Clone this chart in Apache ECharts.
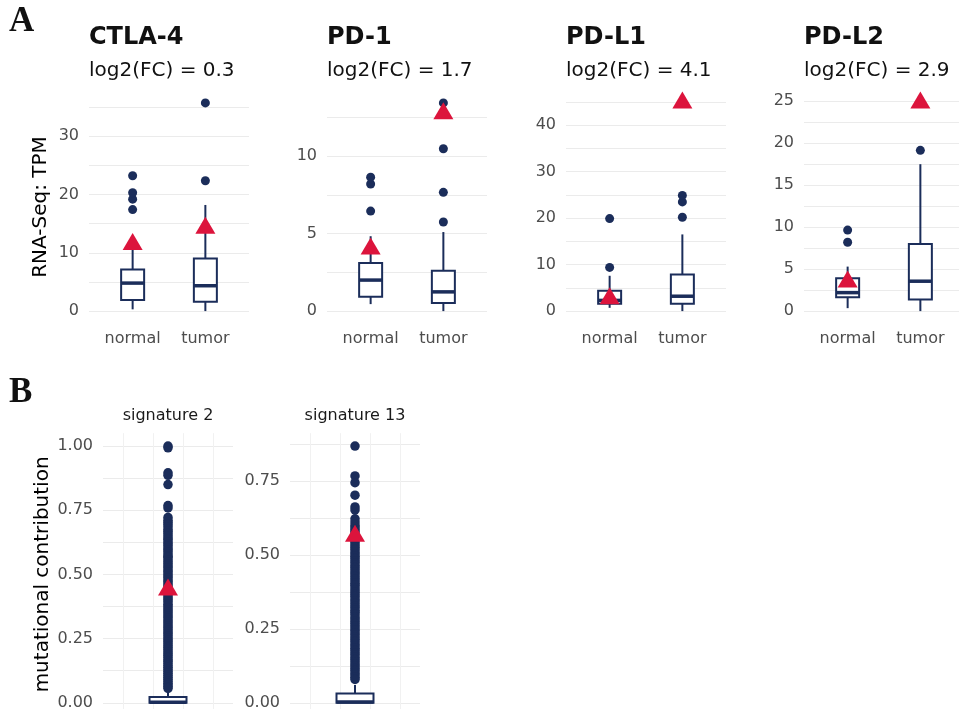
<!DOCTYPE html>
<html><head><meta charset="utf-8">
<script src="https://cdn.jsdelivr.net/npm/echarts@6/dist/echarts.min.js"></script>
<style>html,body{margin:0;padding:0;background:#fff}#c{width:959px;height:709px}</style>
</head><body><div id="c"></div>
<script>
// ---------- DATA ----------
const groups = ['normal', 'tumor'];

// boxes: [lower whisker, Q1, median, Q3, upper whisker] per group
const ctlaBoxes = [[0.3, 1.9, 4.8, 7.15, 12.0], [0, 1.6, 4.35, 9.0, 18.2]];
const ctlaOutNormal = [17.4, 19.2, 20.3, 23.2];
const ctlaOutTumor = [22.35, 35.7];
const ctlaMeans = [11.4, 14.2];
const ctlaTickLabels = [0, 10, 20, 30];
const ctlaGridLines = [0, 5, 10, 15, 20, 25, 30, 35];

const pd1Boxes = [[0.45, 0.92, 2.0, 3.1, 4.83], [0, 0.53, 1.24, 2.6, 5.1]];
const pd1OutNormal = [6.45, 8.2, 8.64];
const pd1OutTumor = [5.75, 7.66, 10.47, 13.43];
const pd1Means = [4.0, 12.73];
const pd1TickLabels = [0, 5, 10];
const pd1GridLines = [0, 2.5, 5, 7.5, 10, 12.5];

const pdl1Boxes = [[0.7, 1.6, 2.3, 4.4, 7.6], [0, 1.6, 3.2, 7.9, 16.5]];
const pdl1OutNormal = [9.4, 19.9];
const pdl1OutTumor = [20.2, 23.5, 24.9];
const pdl1Means = [2.67, 44.8];
const pdl1TickLabels = [0, 10, 20, 30, 40];
const pdl1GridLines = [0, 5, 10, 15, 20, 25, 30, 35, 40, 45];

const pdl2Boxes = [[0.35, 1.66, 2.2, 3.9, 5.3], [0, 1.38, 3.56, 8.0, 17.5]];
const pdl2OutNormal = [8.2, 9.65];
const pdl2OutTumor = [19.15];
const pdl2Means = [3.47, 24.8];
const pdl2TickLabels = [0, 5, 10, 15, 20, 25];
const pdl2GridLines = [0, 2.5, 5, 7.5, 10, 12.5, 15, 17.5, 20, 22.5, 25];

const sig2Box = [0, 0, 0.002, 0.022, 0.045];
const sig2Outliers = [1.000, 0.993, 0.896, 0.886, 0.850, 0.768, 0.759, 0.722, 0.711, 0.703, 0.694, 0.686, 0.675, 0.668, 0.659, 0.651, 0.642, 0.636, 0.627, 0.619, 0.612, 0.603, 0.596, 0.588, 0.579, 0.571, 0.566, 0.557, 0.549, 0.541, 0.533, 0.526, 0.517, 0.510, 0.502, 0.494, 0.487, 0.478, 0.471, 0.463, 0.455, 0.447, 0.440, 0.431, 0.424, 0.416, 0.408, 0.401, 0.393, 0.384, 0.377, 0.369, 0.361, 0.354, 0.346, 0.338, 0.331, 0.322, 0.315, 0.307, 0.299, 0.292, 0.284, 0.276, 0.269, 0.261, 0.253, 0.245, 0.238, 0.230, 0.222, 0.215, 0.207, 0.199, 0.191, 0.184, 0.176, 0.168, 0.161, 0.153, 0.145, 0.138, 0.130, 0.122, 0.115, 0.107, 0.099, 0.092, 0.084, 0.076, 0.069, 0.062, 0.056];
const sig2Mean = 0.439;
const sig2TickLabels = [0, 0.25, 0.5, 0.75, 1.0];
const sig2GridLines = [0, 0.125, 0.25, 0.375, 0.5, 0.625, 0.75, 0.875, 1.0];

const sig13Box = [0, 0, 0.003, 0.031, 0.06];
const sig13Outliers = [0.868, 0.767, 0.744, 0.702, 0.662, 0.652, 0.622, 0.611, 0.601, 0.594, 0.586, 0.579, 0.571, 0.563, 0.556, 0.548, 0.541, 0.533, 0.526, 0.518, 0.510, 0.503, 0.495, 0.488, 0.480, 0.473, 0.465, 0.457, 0.450, 0.442, 0.435, 0.427, 0.419, 0.412, 0.404, 0.397, 0.389, 0.381, 0.374, 0.366, 0.359, 0.351, 0.344, 0.336, 0.328, 0.321, 0.313, 0.306, 0.298, 0.290, 0.283, 0.275, 0.268, 0.260, 0.253, 0.245, 0.237, 0.230, 0.222, 0.215, 0.207, 0.199, 0.192, 0.184, 0.177, 0.169, 0.162, 0.154, 0.146, 0.139, 0.131, 0.124, 0.116, 0.109, 0.101, 0.094, 0.086, 0.079];
const sig13Mean = 0.563;
const sig13TickLabels = [0, 0.25, 0.5, 0.75];
const sig13GridLines = [0, 0.125, 0.25, 0.375, 0.5, 0.625, 0.75, 0.875];
const sigVerticalLines = [0.55, 0.85, 1.15, 1.45];

// ---------- STYLE ----------
const NAVY = '#1b2d5a', RED = '#dc143c', GRIDC = '#ebebeb', TICKC = '#4d4d4d';
const FONT = 'DejaVu Sans';

function expandExtent(vals) {
  const lo = Math.min(...vals), hi = Math.max(...vals);
  const pad = (hi - lo) * 0.05;
  return [lo - pad, hi + pad];
}

function boxRenderer(wpx) {
  return function (params, api) {
    const x = api.value(0);
    const lo = api.coord([x, api.value(1)]);
    const q1 = api.coord([x, api.value(2)]);
    const md = api.coord([x, api.value(3)]);
    const q3 = api.coord([x, api.value(4)]);
    const hi = api.coord([x, api.value(5)]);
    const cx = lo[0], h = wpx / 2;
    const ls = { stroke: NAVY, lineWidth: 2, fill: null };
    return {
      type: 'group', children: [
        { type: 'line', shape: { x1: cx, y1: lo[1], x2: cx, y2: q1[1] }, style: ls },
        { type: 'line', shape: { x1: cx, y1: q3[1], x2: cx, y2: hi[1] }, style: ls },
        { type: 'rect', shape: { x: cx - h, y: q3[1], width: wpx, height: q1[1] - q3[1] }, style: { fill: '#fff', stroke: NAVY, lineWidth: 2 } },
        { type: 'line', shape: { x1: cx - h, y1: md[1], x2: cx + h, y2: md[1] }, style: { stroke: NAVY, lineWidth: 3.5 } }
      ]
    };
  };
}

const panels = [
  { title: 'CTLA-4', fc: '0.3', boxes: ctlaBoxes, outs: [ctlaOutNormal, ctlaOutTumor], means: ctlaMeans, labels: ctlaTickLabels, lines: ctlaGridLines, left: 89, yName: 'RNA-Seq: TPM' },
  { title: 'PD-1', fc: '1.7', boxes: pd1Boxes, outs: [pd1OutNormal, pd1OutTumor], means: pd1Means, labels: pd1TickLabels, lines: pd1GridLines, left: 327 },
  { title: 'PD-L1', fc: '4.1', boxes: pdl1Boxes, outs: [pdl1OutNormal, pdl1OutTumor], means: pdl1Means, labels: pdl1TickLabels, lines: pdl1GridLines, left: 566 },
  { title: 'PD-L2', fc: '2.9', boxes: pdl2Boxes, outs: [pdl2OutNormal, pdl2OutTumor], means: pdl2Means, labels: pdl2TickLabels, lines: pdl2GridLines, left: 804 }
];
const sigPanels = [
  { title: 'signature 2', box: sig2Box, outs: sig2Outliers, mean: sig2Mean, labels: sig2TickLabels, lines: sig2GridLines, left: 103, yName: 'mutational contribution' },
  { title: 'signature 13', box: sig13Box, outs: sig13Outliers, mean: sig13Mean, labels: sig13TickLabels, lines: sig13GridLines, left: 290 }
];

const grid = [], xAxis = [], yAxis = [], series = [], title = [];
const tickLabelStyle = { color: TICKC, fontSize: 16, fontFamily: FONT };

title.push({ text: 'A', left: 9, top: 4, padding: 0, textStyle: { fontFamily: 'Liberation Serif', fontWeight: 'bold', fontSize: 35, color: '#111' } });
title.push({ text: 'B', left: 9, top: 375, padding: 0, textStyle: { fontFamily: 'Liberation Serif', fontWeight: 'bold', fontSize: 35, color: '#111' } });

panels.forEach((p, i) => {
  const allVals = [].concat(...p.boxes, ...p.outs, p.means);
  const ext = expandExtent(allVals);
  grid.push({ left: p.left, top: 92.5, width: 160, height: 229, containLabel: false, outerBoundsMode: 'none' });
  xAxis.push({
    gridIndex: i, type: 'value', min: 0.4, max: 2.6,
    axisLine: { show: false }, axisTick: { show: false, customValues: [1, 2] }, splitLine: { show: false },
    axisLabel: Object.assign({ customValues: [1, 2], margin: 9, formatter: v => groups[Math.round(v) - 1] }, tickLabelStyle)
  });
  yAxis.push({
    gridIndex: i, type: 'value', min: ext[0], max: ext[1],
    axisLine: { show: false }, axisTick: { show: false, customValues: p.lines },
    splitLine: { show: true, lineStyle: { color: GRIDC, width: 1 } },
    axisLabel: Object.assign({ customValues: p.labels, margin: 10, formatter: v => String(v) }, tickLabelStyle),
    name: p.yName || '', nameLocation: 'middle', nameRotate: 90, nameGap: 38,
    nameTextStyle: { fontFamily: FONT, fontSize: 20, color: '#000' }
  });
  series.push({
    type: 'custom', xAxisIndex: i, yAxisIndex: i, renderItem: boxRenderer(23), clip: false,
    encode: { x: 0, y: [1, 2, 3, 4, 5] }, silent: true,
    data: p.boxes.map((b, k) => [k + 1].concat(b))
  });
  series.push({
    type: 'scatter', xAxisIndex: i, yAxisIndex: i, symbol: 'circle', symbolSize: 9, silent: true,
    itemStyle: { color: NAVY, opacity: 1 }, z: 3,
    data: [].concat(...p.outs.map((arr, k) => arr.map(v => [k + 1, v])))
  });
  series.push({
    type: 'scatter', xAxisIndex: i, yAxisIndex: i, symbol: 'triangle', symbolSize: [20, 17], symbolOffset: [0, -3], silent: true,
    itemStyle: { color: RED, opacity: 1 }, z: 5,
    data: p.means.map((m, k) => [k + 1, m])
  });
  title.push({
    text: p.title, subtext: 'log2(FC) = ' + p.fc, left: p.left, top: 25.5, padding: 0, itemGap: 11.5,
    textStyle: { fontFamily: FONT, fontWeight: 'bold', fontSize: 24, color: '#111' },
    subtextStyle: { fontFamily: FONT, fontSize: 20, color: '#111' }
  });
});

sigPanels.forEach((p, j) => {
  const i = panels.length + j;
  const ext = expandExtent([].concat(p.box, p.outs, [p.mean]));
  grid.push({ left: p.left, top: 433.2, width: 130, height: 282.4, containLabel: false, outerBoundsMode: 'none' });
  xAxis.push({
    gridIndex: i, type: 'value', min: 0.35, max: 1.65,
    axisLine: { show: false }, axisTick: { show: false, customValues: sigVerticalLines },
    splitLine: { show: true, lineStyle: { color: '#f1f1f1', width: 1 } },
    axisLabel: { show: false }
  });
  yAxis.push({
    gridIndex: i, type: 'value', min: ext[0], max: ext[1],
    axisLine: { show: false }, axisTick: { show: false, customValues: p.lines },
    splitLine: { show: true, lineStyle: { color: GRIDC, width: 1 } },
    axisLabel: Object.assign({ customValues: p.labels, margin: 10, formatter: v => v.toFixed(2) }, tickLabelStyle),
    name: p.yName || '', nameLocation: 'middle', nameRotate: 90, nameGap: 50,
    nameTextStyle: { fontFamily: FONT, fontSize: 20, color: '#000' }
  });
  series.push({
    type: 'custom', xAxisIndex: i, yAxisIndex: i, renderItem: boxRenderer(37), clip: false,
    encode: { x: 0, y: [1, 2, 3, 4, 5] }, silent: true,
    data: [[1].concat(p.box)]
  });
  series.push({
    type: 'scatter', xAxisIndex: i, yAxisIndex: i, symbol: 'circle', symbolSize: 9.5, silent: true,
    itemStyle: { color: NAVY, opacity: 1 }, z: 3, large: false,
    data: p.outs.map(v => [1, v])
  });
  series.push({
    type: 'scatter', xAxisIndex: i, yAxisIndex: i, symbol: 'triangle', symbolSize: [20, 17], symbolOffset: [0, -3], silent: true,
    itemStyle: { color: RED, opacity: 1 }, z: 5,
    data: [[1, p.mean]]
  });
  title.push({
    text: p.title, left: p.left + 65, top: 408, textAlign: 'center', padding: 0,
    textStyle: { fontFamily: FONT, fontWeight: 'normal', fontSize: 16, color: '#1a1a1a' }
  });
});

const chart = echarts.init(document.getElementById('c'), null, { renderer: 'canvas' });
chart.setOption({ animation: false, backgroundColor: '#fff', title, grid, xAxis, yAxis, series, tooltip: { show: false } });
</script>
</body></html>
